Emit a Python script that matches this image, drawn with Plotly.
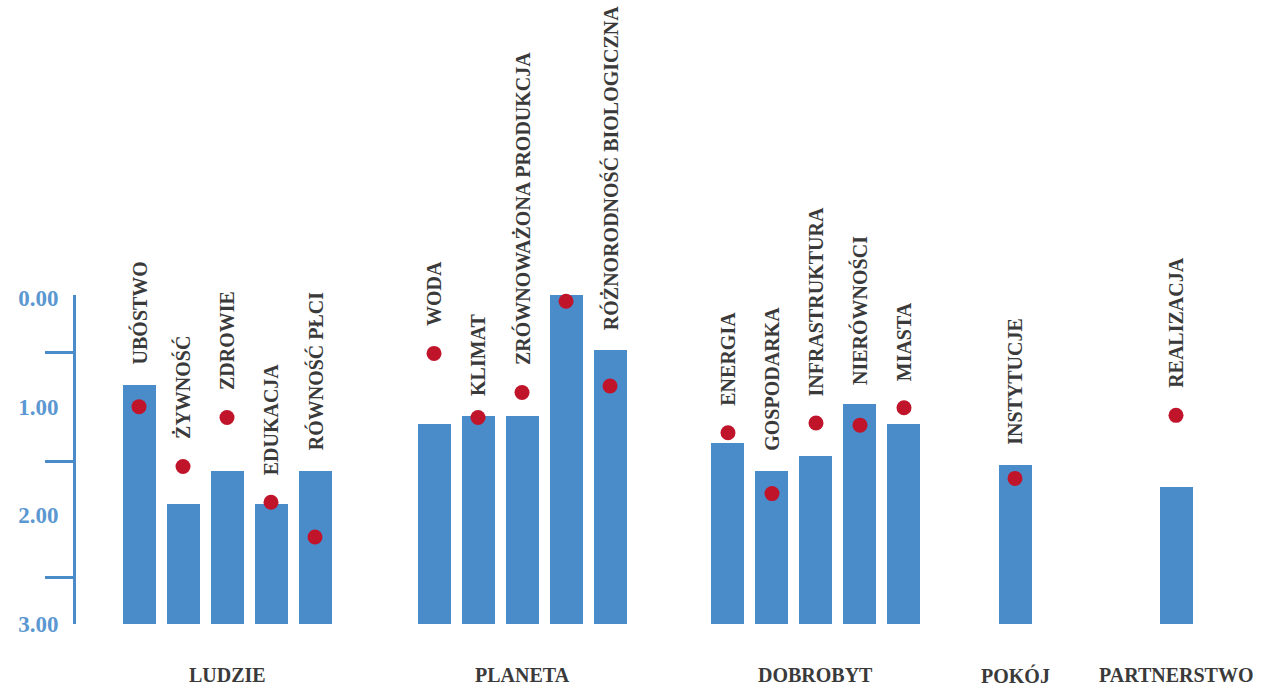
import plotly.graph_objects as go

# ---------------- data ----------------
groups = ["LUDZIE", "PLANETA", "DOBROBYT", "POKÓJ", "PARTNERSTWO"]
group_sizes = [5, 5, 5, 1, 1]
categories = [
    "UBÓSTWO", "ŻYWNOŚĆ", "ZDROWIE", "EDUKACJA", "RÓWNOŚĆ PŁCI",
    "WODA", "KLIMAT", "ZRÓWNOWAŻONA PRODUKCJA", "OCEANY", "RÓŻNORODNOŚĆ BIOLOGICZNA",
    "ENERGIA", "GOSPODARKA", "INFRASTRUKTURA", "NIERÓWNOŚCI", "MIASTA",
    "INSTYTUCJE",
    "REALIZACJA",
]
bar_values = [
    0.80, 1.90, 1.59, 1.90, 1.59,
    1.16, 1.09, 1.09, -0.09, 0.48,
    1.33, 1.59, 1.45, 0.98, 1.16,
    1.54,
    1.74,
]
dot_values = [
    1.00, 1.55, 1.10, 1.88, 2.20,
    0.51, 1.10, 0.87, 0.03, 0.81,
    1.24, 1.80, 1.15, 1.17, 1.01,
    1.66,
    1.08,
]
tick_vals = [0, 1, 2, 3]
tick_text = ["0.00", "1.00", "2.00", "3.00"]
minor_vals = [0.5, 1.5, 2.57]

# ---------------- layout constants ----------------
BASE = 3.0
group_start = [0.0, 6.705, 13.386, 19.909, 23.568]  # slot positions of first bar in each group
BAR_COLOR = "#4a8bca"
DOT_COLOR = "#c0142b"
TEXT_COLOR = "#3a3a3a"
AXIS_COLOR = "#4a8bca"
TICK_FONT_COLOR = "#5b97d1"
FONT = "Times New Roman, Liberation Serif, DejaVu Serif, serif"

xs = []
group_centers = []
for g, n in enumerate(group_sizes):
    pos = [group_start[g] + i for i in range(n)]
    xs.extend(pos)
    group_centers.append(sum(pos) / n)

fig = go.Figure()
fig.add_trace(go.Bar(
    x=xs,
    y=[v - BASE for v in bar_values],
    base=[BASE] * len(bar_values),
    width=0.75,
    marker=dict(color=BAR_COLOR, line=dict(width=0)),
    cliponaxis=False,
    hoverinfo="skip",
    showlegend=False,
))
fig.add_trace(go.Scatter(
    x=xs,
    y=dot_values,
    mode="markers",
    marker=dict(color=DOT_COLOR, size=15, line=dict(width=0)),
    cliponaxis=False,
    hoverinfo="skip",
    showlegend=False,
))

annotations = []
for x, name, b, d in zip(xs, categories, bar_values, dot_values):
    top = min(b, d)
    shift = 18 + (7 if d < b else 0)
    annotations.append(dict(
        x=x, y=top, xref="x", yref="y",
        text=f"<b>{name}</b>", textangle=-90,
        showarrow=False, xanchor="center", yanchor="bottom", yshift=shift,
        font=dict(family=FONT, size=20, color=TEXT_COLOR),
    ))
for gx, gname in zip(group_centers, groups):
    annotations.append(dict(
        x=gx, y=0, xref="x", yref="paper",
        text=f"<b>{gname}</b>", showarrow=False,
        xanchor="center", yanchor="middle", yshift=-51,
        font=dict(family=FONT, size=20, color=TEXT_COLOR),
    ))

fig.update_layout(
    width=1264, height=686,
    margin=dict(l=76, r=0, t=295, b=62),
    paper_bgcolor="white", plot_bgcolor="white",
    bargap=0,
    annotations=annotations,
    xaxis=dict(
        range=[-1.432, 25.568], showgrid=False, zeroline=False,
        showticklabels=False, ticks="", showline=False, fixedrange=True,
    ),
    yaxis=dict(
        range=[3, -0.0276], showgrid=False, zeroline=False,
        showline=True, linecolor=AXIS_COLOR, linewidth=3,
        tickvals=tick_vals, ticktext=[f"<b>{t}</b>" for t in tick_text], ticks="",
        ticklabelstandoff=10,
        tickfont=dict(family=FONT, size=23, color=TICK_FONT_COLOR),
        minor=dict(tickvals=minor_vals, ticks="outside", ticklen=28,
                   tickwidth=3, tickcolor=AXIS_COLOR, showgrid=False),
        fixedrange=True,
    ),
)

fig.write_html(
    "out.html",
    config={"displayModeBar": False},
    post_script="document.body.style.margin='0';document.body.style.overflow='hidden';",
)
